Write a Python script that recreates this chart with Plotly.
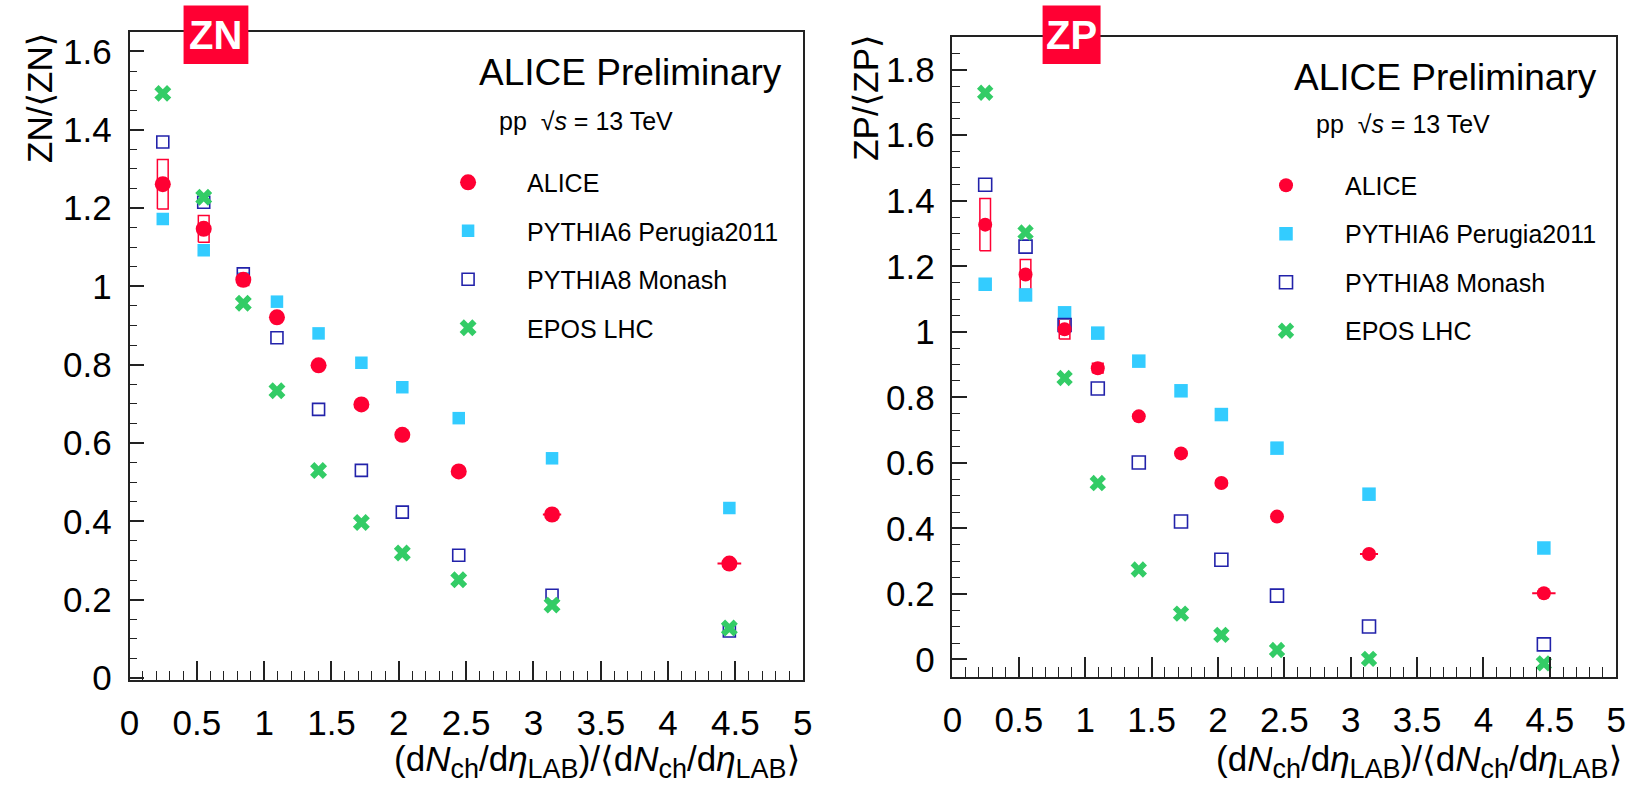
import plotly.graph_objects as go

# Charged-particle multiplicity classes (normalised to the mean)
mult = [0.247, 0.551, 0.845, 1.095, 1.404, 1.722, 2.026, 2.445, 3.138, 4.455]
mult_err = [0.01, 0.012, 0.015, 0.018, 0.022, 0.028, 0.034, 0.045, 0.068, 0.088]

# ZN: neutron zero-degree calorimeter signal normalised to its mean
zn_alice = [1.261, 1.147, 1.017, 0.921, 0.7985, 0.6985, 0.621, 0.5275, 0.4175, 0.292]
zn_alice_sys = [0.063, 0.034, 0.015, 0.01, 0.008, 0.008, 0.008, 0.008, 0.008, 0.008]
zn_pythia6 = [1.172, 1.0925, 1.02, 0.961, 0.88, 0.805, 0.7425, 0.6635, 0.561, 0.434]
zn_pythia8 = [1.369, 1.215, 1.032, 0.869, 0.686, 0.53, 0.4235, 0.3135, 0.211, 0.12]
zn_epos = [1.493, 1.2275, 0.957, 0.7335, 0.53, 0.397, 0.319, 0.251, 0.186, 0.1275]

# ZP: proton zero-degree calorimeter signal normalised to its mean
zp_alice = [1.327, 1.175, 1.008, 0.889, 0.742, 0.629, 0.5385, 0.436, 0.322, 0.202]
zp_alice_sys = [0.08, 0.046, 0.03, 0.015, 0.008, 0.008, 0.008, 0.008, 0.008, 0.008]
zp_pythia6 = [1.145, 1.1125, 1.058, 0.996, 0.9105, 0.82, 0.7475, 0.645, 0.5045, 0.34]
zp_pythia8 = [1.449, 1.26, 1.021, 0.827, 0.601, 0.421, 0.3045, 0.195, 0.1006, 0.046]
zp_epos = [1.7295, 1.303, 0.859, 0.5385, 0.2746, 0.14, 0.075, 0.029, 0.002, -0.012]

series_names = ["ALICE", "PYTHIA6 Perugia2011", "PYTHIA8 Monash", "EPOS LHC"]

RED = "#ff0033"
CYAN = "#33ccff"
BLUE = "#2222aa"
GREEN = "#33cc66"
AXIS = "#222222"
FONT = "Liberation Sans, Arial, DejaVu Sans, sans-serif"

W, H = 1644, 803


def px_x(p):
    return p / W


def px_y(p):
    return 1 - p / H


def sys_boxes(x, y, dy, half_width=0.04):
    bx, by = [], []
    for xi, yi, di in zip(x, y, dy):
        bx += [xi - half_width, xi + half_width, xi + half_width, xi - half_width, xi - half_width, None]
        by += [yi - di, yi - di, yi + di, yi + di, yi - di, None]
    return bx, by


fig = go.Figure()


def add_panel(xa, ya, legend, alice, alice_sys, p6, p8, epos, sizes):
    s_alice, s_p6, s_p8, s_epos = sizes
    bx, by = sys_boxes(mult, alice, alice_sys)
    fig.add_trace(go.Scatter(
        x=bx, y=by, mode="lines", line=dict(color=RED, width=1.5),
        xaxis=xa, yaxis=ya, showlegend=False, hoverinfo="skip"))
    fig.add_trace(go.Scatter(
        x=mult, y=p6, mode="markers", name=series_names[1], legend=legend, legendrank=2,
        legendgroup=legend + "p6",
        marker=dict(symbol="square", size=s_p6, color=CYAN, line=dict(width=0)),
        xaxis=xa, yaxis=ya))
    fig.add_trace(go.Scatter(
        x=mult, y=p8, mode="markers", name=series_names[2], legend=legend, legendrank=3,
        legendgroup=legend + "p8",
        marker=dict(symbol="square-open", size=s_p8, color=BLUE, line=dict(width=1.6, color=BLUE)),
        xaxis=xa, yaxis=ya))
    fig.add_trace(go.Scatter(
        x=mult, y=alice, mode="markers", name=series_names[0], legend=legend, legendrank=1,
        legendgroup=legend + "alice",
        error_x=dict(type="data", array=mult_err, color=RED, thickness=2, width=0),
        marker=dict(symbol="circle", size=s_alice, color=RED, line=dict(width=0)),
        xaxis=xa, yaxis=ya))
    fig.add_trace(go.Scatter(
        x=mult, y=epos, mode="markers", name=series_names[3], legend=legend, legendrank=4,
        legendgroup=legend + "epos",
        marker=dict(symbol="x", size=s_epos, color=GREEN, line=dict(width=0)),
        xaxis=xa, yaxis=ya))


add_panel("x", "y", "legend", zn_alice, zn_alice_sys, zn_pythia6, zn_pythia8, zn_epos,
          (16, 12.5, 12, 15))
add_panel("x2", "y2", "legend2", zp_alice, zp_alice_sys, zp_pythia6, zp_pythia8, zp_epos,
          (14, 13.5, 13, 14.5))

tick_font = dict(family=FONT, size=35, color="black")


def x_axis(domain, anchor):
    return dict(
        domain=domain, anchor=anchor, range=[0, 5], tick0=0, dtick=0.5,
        ticks="inside", ticklen=20, tickwidth=1.5, tickcolor=AXIS,
        minor=dict(dtick=0.1, tick0=0, ticks="inside", ticklen=10, tickwidth=1.3, tickcolor=AXIS),
        showline=True, mirror=True, linecolor=AXIS, linewidth=1.5,
        showgrid=False, zeroline=False, tickfont=tick_font, ticklabelstandoff=11,
    )


def y_axis(domain, anchor, rng):
    return dict(
        domain=domain, anchor=anchor, range=rng, tick0=0, dtick=0.2,
        ticks="inside", ticklen=15, tickwidth=1.5, tickcolor=AXIS,
        minor=dict(dtick=0.05, tick0=0, ticks="inside", ticklen=8, tickwidth=1.3, tickcolor=AXIS),
        showline=True, mirror=True, linecolor=AXIS, linewidth=1.5,
        showgrid=False, zeroline=False, tickfont=tick_font, ticklabelstandoff=9,
    )


legend_common = dict(
    xanchor="left", yanchor="top", itemwidth=108, tracegroupgap=13,
    bgcolor="rgba(0,0,0,0)", borderwidth=0,
    font=dict(family=FONT, size=25, color="black"),
)

fig.update_layout(
    width=W, height=H, margin=dict(l=0, r=0, t=0, b=0),
    paper_bgcolor="white", plot_bgcolor="white",
    xaxis=x_axis([px_x(121), px_x(802.5)], "y"),
    yaxis=y_axis([px_y(695), px_y(33)], "x", [-0.006, 1.649]),
    xaxis2=x_axis([px_x(954), px_x(1626)], "y2"),
    yaxis2=y_axis([px_y(691.5), px_y(37.7)], "x2", [-0.053, 1.9]),
    legend=dict(x=px_x(404), y=px_y(163), **legend_common),
    legend2=dict(x=px_x(1232), y=px_y(166), **legend_common),
)

sub = "<sub><span style='font-size:27px'>{}</span></sub>"
x_title = ("(d<i>N</i>" + sub.format("ch") + "/d<i>η</i>" + sub.format("LAB") +
           ")/⟨d<i>N</i>" + sub.format("ch") + "/d<i>η</i>" + sub.format("LAB") + "⟩")

annotations = [
    # axis titles
    dict(text=x_title, x=px_x(802), y=0, xanchor="right", yanchor="bottom",
         font=dict(family=FONT, size=35, color="black")),
    dict(text=x_title, x=px_x(1634), y=0, xanchor="right", yanchor="bottom",
         font=dict(family=FONT, size=35, color="black")),
    dict(text="ZN/⟨ZN⟩", textangle=-90, x=px_x(30), y=px_y(32), xanchor="center", yanchor="top",
         font=dict(family=FONT, size=35, color="black")),
    dict(text="ZP/⟨ZP⟩", textangle=-90, x=px_x(866), y=px_y(33), xanchor="center", yanchor="top",
         font=dict(family=FONT, size=35, color="black")),
    # headers
    dict(text="ALICE Preliminary", x=px_x(784), y=px_y(74), xanchor="right", yanchor="middle",
         font=dict(family=FONT, size=37, color="black")),
    dict(text="ALICE Preliminary", x=px_x(1609), y=px_y(79), xanchor="right", yanchor="middle",
         font=dict(family=FONT, size=37, color="black")),
    dict(text="pp\u00a0 √<i>s</i> = 13 TeV", x=px_x(493), y=px_y(124), xanchor="left", yanchor="middle",
         font=dict(family=FONT, size=25, color="black")),
    dict(text="pp\u00a0 √<i>s</i> = 13 TeV", x=px_x(1320), y=px_y(127), xanchor="left", yanchor="middle",
         font=dict(family=FONT, size=25, color="black")),
    # detector badges
    dict(text="<b>ZN</b>", x=px_x(208.5), y=px_y(36), xanchor="center", yanchor="middle",
         font=dict(family=FONT, size=40, color="white")),
    dict(text="<b>ZP</b>", x=px_x(1074.7), y=px_y(36), xanchor="center", yanchor="middle",
         font=dict(family=FONT, size=40, color="white")),
]
for a in annotations:
    a.update(xref="paper", yref="paper", showarrow=False)
fig.update_layout(annotations=annotations)

shapes = [
    dict(type="rect", xref="paper", yref="paper", layer="above",
         x0=px_x(175.7), x1=px_x(241.3), y0=px_y(65.3), y1=px_y(5.7),
         fillcolor=RED, line=dict(width=0)),
    dict(type="rect", xref="paper", yref="paper", layer="above",
         x0=px_x(1045.3), x1=px_x(1104), y0=px_y(65.3), y1=px_y(5.7),
         fillcolor=RED, line=dict(width=0)),
]
fig.update_layout(shapes=shapes)

fig.write_html("out.html")
